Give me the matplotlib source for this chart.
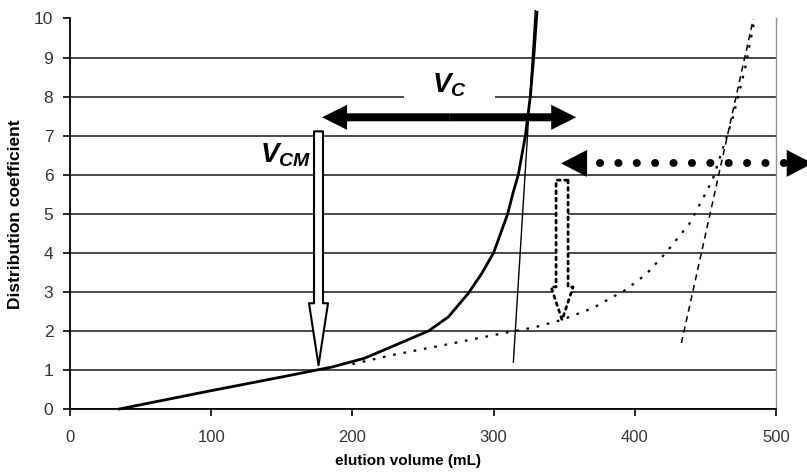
import numpy as np
import matplotlib
matplotlib.use("Agg")
import matplotlib.pyplot as plt
from matplotlib.patches import FancyArrowPatch
from matplotlib.lines import Line2D

plt.rcParams['mathtext.fontset'] = 'custom'
plt.rcParams['mathtext.it'] = 'Liberation Sans:italic:bold'
plt.rcParams['mathtext.rm'] = 'Liberation Sans:bold'

# ---- data ----
# main (solid) elution curve
solid_x = [35, 100, 150, 175, 185, 208.6, 232, 254, 268, 282, 291.6, 300, 305.8, 310,
           313.5, 317.5, 322.5, 326, 328.4, 330.7]
solid_y = [0, 0.47, 0.82, 1.0, 1.07, 1.3, 1.66, 2.0, 2.36, 2.96, 3.47, 4.0, 4.58, 5.0,
           5.5, 6.0, 7.0, 8.0, 9.0, 10.16]
# second (dotted) curve
dotted_x = [200, 228, 268, 308, 330, 348, 370, 393, 408, 422, 439, 455, 469, 478, 485]
dotted_y = [1.15, 1.38, 1.66, 1.95, 2.1, 2.28, 2.58, 3.04, 3.45, 4.0, 4.76, 5.86, 7.4, 8.7, 10.0]
# steep tangent lines
tangent1_x = [314, 329.5]
tangent1_y = [1.2, 10.2]
tangent2_x = [433, 484]
tangent2_y = [1.69, 10.0]

x_ticks = [0, 100, 200, 300, 400, 500]
y_ticks = list(range(0, 11))

# annotation anchors (data units)
vc_arrow = (178.5, 358.5, 7.47)        # x_left_tip, x_right_tip, y
vc_label = (268.5, 8.3)
vc_gap = (238.3, 299.5, 8)             # gridline break behind the V_C label
vcm_arrow = (176, 7.11, 1.12)          # x, y_top, y_tip
vcm_label = (153, 6.5)
dot_arrow = (347.8, 526, 6.29)         # x_left_tip, x_right_tip, y
dot_down = (348.5, 5.86, 2.28)         # x, y_top, y_tip

PX = 72 / 100  # pixels -> points at dpi 100

fig = plt.figure(figsize=(8.07, 4.74), dpi=100)
ax = fig.add_axes([70 / 807, 1 - 409 / 474, (776 - 70) / 807, (409 - 18.5) / 474])

ax.set_xlim(0, 500)
ax.set_ylim(0, 10)
ax.set_axisbelow(True)
ax.yaxis.grid(True, color='#2a2a2a', lw=1.2)
ax.xaxis.grid(False)

ax.spines['top'].set_visible(False)
ax.spines['right'].set_color('#909090')
ax.spines['right'].set_linewidth(1.0)
ax.spines['left'].set_linewidth(1.3)
ax.spines['bottom'].set_linewidth(1.3)

ax.set_xticks(x_ticks)
ax.set_yticks(y_ticks)
ax.tick_params(axis='y', direction='out', length=5, width=1.2, pad=7,
               labelsize=12.5, labelcolor='#333333')
ax.tick_params(axis='x', direction='out', length=5, width=1.2, pad=10,
               labelsize=12, labelcolor='#333333')
for lab in ax.get_xticklabels() + ax.get_yticklabels():
    lab.set_family('Liberation Sans')

ax.set_xlabel('elution volume (mL)', family='Liberation Sans', fontweight='bold', fontsize=11)
ax.xaxis.set_label_coords((408 - 70) / 706, -0.115)
ax.set_ylabel('Distribution coefficient', family='Liberation Sans', fontweight='bold',
              fontsize=12.5, labelpad=8)

# curves
ax.plot(solid_x, solid_y, color='black', lw=2.0, clip_on=False, zorder=4)
ax.plot(dotted_x, dotted_y, color='black', lw=1.6, dashes=(1.2, 3.5), zorder=3)
ax.plot(tangent1_x, tangent1_y, color='black', lw=1.0, zorder=3, clip_on=False)
ax.plot(tangent2_x, tangent2_y, color='black', lw=1.1, dashes=(4, 3), zorder=3)

# V_C double arrow (two filled arrows from the middle)
xl, xr, yv = vc_arrow
xm = (xl + xr) / 2
style = f'simple,head_length={25*PX},head_width={25*PX},tail_width={8*PX}'
for tip in (xl, xr):
    ax.add_patch(FancyArrowPatch((xm, yv), (tip, yv), arrowstyle=style, mutation_scale=1,
                                 fc='black', ec='black', lw=0, shrinkA=0, shrinkB=0,
                                 zorder=6, clip_on=False))
ax.plot(vc_gap[:2], [vc_gap[2]] * 2, color='white', lw=3, zorder=2)
ax.text(vc_label[0], vc_label[1], r'$V_C$', fontsize=20, ha='center', va='center', zorder=5)

# V_CM hollow down arrow
xa, ytop, ytip = vcm_arrow
style = f'simple,head_length={62*PX},head_width={19*PX},tail_width={9*PX}'
ax.add_patch(FancyArrowPatch((xa, ytop), (xa, ytip), arrowstyle=style, mutation_scale=1,
                             fc='white', ec='black', lw=1.5, shrinkA=0, shrinkB=0, zorder=6))
ax.text(vcm_label[0], vcm_label[1], r'$V_{CM}$', fontsize=20, ha='center', va='center', zorder=6)

# dotted double arrow (heads + round dots)
xl, xr, yd = dot_arrow
hstyle = f'simple,head_length={26*PX},head_width={27*PX},tail_width=0.01'
ax.add_patch(FancyArrowPatch((xl + 28 / 1.406, yd), (xl, yd), arrowstyle=hstyle, mutation_scale=1,
                             fc='black', ec='black', lw=0, shrinkA=0, shrinkB=0, zorder=6, clip_on=False))
ax.add_patch(FancyArrowPatch((xr - 28 / 1.406, yd), (xr, yd), arrowstyle=hstyle, mutation_scale=1,
                             fc='black', ec='black', lw=0, shrinkA=0, shrinkB=0, zorder=6, clip_on=False))
dot_lw = 8 * PX
dots = Line2D([xl + 39 / 1.406, xr - 25 / 1.406], [yd, yd], color='black', lw=dot_lw,
              dashes=(0.01, 18.3 * PX / dot_lw), dash_capstyle='round', zorder=6, clip_on=False)
ax.add_line(dots)

# dotted hollow down arrow
xa, ytop, ytip = dot_down
style = f'simple,head_length={33*PX},head_width={22*PX},tail_width={12*PX}'
ax.add_patch(FancyArrowPatch((xa, ytop), (xa, ytip), arrowstyle=style, mutation_scale=1,
                             fc='white', ec='black', lw=2.0, ls=':', shrinkA=0, shrinkB=0, zorder=6))

fig.savefig('out.png', dpi=100)
